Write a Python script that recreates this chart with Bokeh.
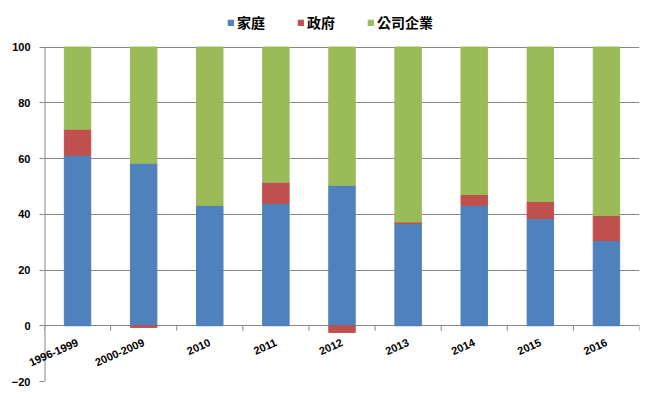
import math
from bokeh.plotting import figure
from bokeh.models import (Range1d, LinearAxis, FixedTicker, Legend, LegendItem,
                          ColumnDataSource, InlineStyleSheet)
from bokeh.embed import file_html
from bokeh.resources import INLINE

categories = ["1996-1999", "2000-2009", "2010", "2011", "2012", "2013", "2014", "2015", "2016"]
household = [61.2, 58.3, 43.2, 43.9, 50.4, 36.7, 43.2, 38.5, 30.6]
government = [9.3, -0.6, 0.0, 7.6, -2.4, 0.5, 3.9, 6.1, 9.0]
corporate = [29.5, 42.3, 56.8, 48.5, 52.0, 62.8, 52.9, 55.4, 60.4]
series_names = ["家庭", "政府", "公司企業"]
y_ticks = [-20, 0, 20, 40, 60, 80, 100]

BLUE, RED, GREEN = "#4F81BD", "#C0504D", "#9BBB59"
GRID = "#868686"

n = len(categories)
xs = [i + 0.5 for i in range(n)]
bounds = list(range(n + 1))
hh_bottom = [0.0] * n
hh_top = household
gov_bottom = [h if g >= 0 else g for h, g in zip(household, government)]
gov_top = [h + g if g >= 0 else 0.0 for h, g in zip(household, government)]
corp_bottom = [h + max(g, 0) for h, g in zip(household, government)]
corp_top = [min(b + c, max(y_ticks)) for b, c in zip(corp_bottom, corporate)]

src = ColumnDataSource(dict(x=xs, hb=hh_bottom, ht=hh_top, gb=gov_bottom, gt=gov_top,
                            cb=corp_bottom, ct=corp_top))

p = figure(width=654, height=398, output_backend="svg", toolbar_location=None,
           x_range=Range1d(0, n), y_range=Range1d(-20, 114.9),
           x_axis_location=None, y_axis_location=None,
           min_border_left=44, min_border_right=15, min_border_top=5, min_border_bottom=17)
p.outline_line_color = None
p.background_fill_color = "white"
p.border_fill_color = "white"
p.stylesheets = [InlineStyleSheet(css=":host { outline: 1px solid #868686; outline-offset: -2px; }")]

W = 0.4
r1 = p.vbar(x="x", bottom="hb", top="ht", width=W, color=BLUE, source=src)
r2 = p.vbar(x="x", bottom="gb", top="gt", width=W, color=RED, source=src)
r3 = p.vbar(x="x", bottom="cb", top="ct", width=W, color=GREEN, source=src)

# y axis (spine drawn only from -20 to 100)
yax = LinearAxis(ticker=FixedTicker(ticks=y_ticks))
yax.axis_line_color = None
yax.major_tick_line_color = GRID
yax.major_tick_out = 5
yax.major_tick_in = 0
yax.minor_tick_line_color = None
yax.major_label_text_font = "Liberation Sans"
yax.major_label_text_font_style = "bold"
yax.major_label_text_font_size = "11px"
yax.major_label_text_color = "black"
yax.major_label_standoff = 9
p.add_layout(yax, "left")
p.segment(x0=[0], y0=[min(y_ticks)], x1=[0], y1=[max(y_ticks)], line_color=GRID, line_width=2)

p.ygrid.ticker = FixedTicker(ticks=y_ticks)
p.ygrid.grid_line_color = GRID
p.xgrid.grid_line_color = None

# category tick marks on the zero line
p.ray(x=bounds, y=[0] * len(bounds), length=5, length_units="screen",
      angle=-math.pi / 2, line_color=GRID, line_width=1)

# category labels: bottom axis, labels pulled up under the zero line
xax = LinearAxis(ticker=FixedTicker(ticks=xs),
                 major_label_overrides={x: c for x, c in zip(xs, categories)})
xax.axis_line_color = None
xax.major_tick_line_color = None
xax.minor_tick_line_color = None
xax.major_tick_out = 0
xax.major_tick_in = 0
xax.major_label_orientation = 0.42
xax.major_label_text_font = "Liberation Sans"
xax.major_label_text_font_style = "bold"
xax.major_label_text_font_size = "11px"
xax.major_label_text_color = "black"
xax.major_label_standoff = -40
p.add_layout(xax, "below")

legend = Legend(items=[LegendItem(label=series_names[0], renderers=[r1]),
                       LegendItem(label=series_names[1], renderers=[r2]),
                       LegendItem(label=series_names[2], renderers=[r3])],
                orientation="horizontal", location=(183, 349))
legend.label_text_font = "Noto Sans CJK TC"
legend.label_text_font_style = "bold"
legend.label_text_font_size = "14px"
legend.label_text_color = "black"
legend.glyph_width = 7
legend.glyph_height = 7
legend.label_standoff = 3
legend.spacing = 32
legend.padding = 0
legend.margin = 0
legend.border_line_color = None
legend.background_fill_alpha = 0
p.add_layout(legend, "center")

open("out.html", "w").write(file_html(p, INLINE))
